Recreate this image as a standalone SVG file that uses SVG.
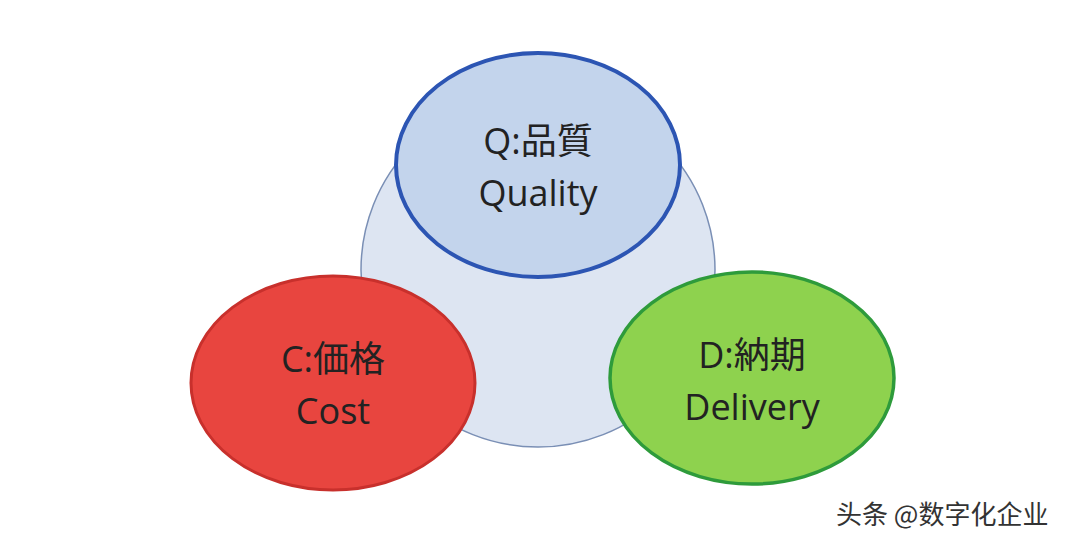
<svg xmlns="http://www.w3.org/2000/svg" width="1080" height="544" viewBox="0 0 1080 544">
<style>
text{font-family:"Open Sans","Noto Sans CJK JP",sans-serif;font-size:36px;fill:#222;text-anchor:middle}
.wm{font-size:26px;fill:#333;text-anchor:start;font-family:"Noto Sans CJK SC",sans-serif}
</style>
<rect width="1080" height="544" fill="#fff"/>
<g id="base"><circle cx="538" cy="270" r="177" fill="#dde5f2" stroke="#7a8fb5" stroke-width="1.5"/></g>
<g id="q"><ellipse cx="538" cy="165" rx="142" ry="112" fill="#c3d4ec" stroke="#2c55b3" stroke-width="4"/>
<text x="538" y="154">Q:品質</text><text x="538" y="206">Quality</text></g>
<g id="c"><ellipse cx="333" cy="383" rx="142" ry="107" fill="#e8453f" stroke="#c8302c" stroke-width="3"/>
<text x="333" y="372">C:価格</text><text x="333" y="424">Cost</text></g>
<g id="d"><ellipse cx="752" cy="378" rx="142" ry="106" fill="#8ed24e" stroke="#2e9b3b" stroke-width="3.5"/>
<text x="752" y="368">D:納期</text><text x="752" y="420">Delivery</text></g>
<g id="connectors"/>
<text class="wm" x="836" y="524">头条 @数字化企业</text>
</svg>
